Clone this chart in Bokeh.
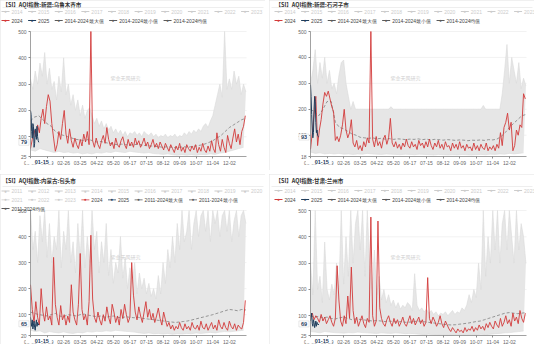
from bokeh.plotting import figure
from bokeh.models import Range1d, FixedTicker, Label, BoxAnnotation
from bokeh.layouts import row, column
from bokeh.embed import file_html
from bokeh.resources import INLINE

# ---------------- data ----------------
X_TICKS = [0, 28, 56, 84, 112, 140, 168, 196, 224, 252, 280, 308, 336]
X_TICK_LABELS = ["01-01", "01-29", "02-26", "03-25", "04-22", "05-20", "06-17",
                 "07-15", "08-12", "09-09", "10-07", "11-04", "12-02"]
CUR_DAY = 14
CUR_DAY_LABEL = "01-15"
YEAR_END = 365

STEP_2024 = 3
STEP_MAX = 4
STEP_MIN = 8
STEP_MEAN = 7
STEP_2025 = 1

# Urumqi
UR_TITLE = "【SI】AQI指数:新疆:乌鲁木齐市"
UR_YTICKS = [25, 100, 200, 300, 400, 500]
UR_2024 = [55, 90, 125, 100, 145, 115, 170, 205, 150, 215,
           260, 235, 150, 95, 45, 70, 120, 90, 150, 200,
           110, 75, 130, 85, 60, 95, 70, 55, 90, 65,
           110, 80, 120, 70, 500, 85, 60, 95, 70, 55,
           85, 105, 75, 135, 90, 65, 80, 55, 95, 70,
           60, 85, 100, 70, 55, 90, 65, 80, 60, 95,
           70, 85, 60, 75, 95, 65, 80, 55, 70, 90,
           60, 75, 55, 80, 65, 50, 75, 60, 45, 70,
           55, 40, 65, 50, 75, 45, 60, 40, 70, 55,
           45, 65, 50, 70, 40, 60, 45, 75, 50, 40,
           65, 45, 85, 55, 40, 115, 70, 45, 90, 60,
           40, 105, 75, 55, 95, 130, 80, 110, 70, 120,
           140, 180]
UR_2025 = [200, 185, 120, 95, 150, 140, 60, 75, 130, 110, 90, 140, 100, 85, 79]
UR_MAX = [320, 280, 350, 300, 380, 330, 420, 300, 360, 280,
          310, 240, 330, 270, 400, 260, 300, 220, 260, 200,
          240, 180, 220, 170, 200, 210, 180, 150, 170, 140,
          160, 130, 150, 125, 140, 115, 130, 110, 125, 105,
          120, 100, 115, 110, 120, 105, 115, 100, 120, 110,
          105, 115, 100, 110, 95, 105, 100, 110, 95, 105,
          100, 110, 95, 105, 100, 115, 105, 120, 110, 125,
          115, 130, 120, 140, 150, 135, 160, 180, 220, 260,
          300, 250, 500, 280, 320, 280, 350, 300, 330, 260,
          300, 270]
UR_MIN = [50, 45, 55, 50, 45, 40, 45, 40, 42, 38,
          40, 35, 38, 35, 40, 38, 42, 40, 45, 42,
          40, 45, 42, 40, 38, 40, 36, 35, 33, 35,
          32, 30, 32, 30, 32, 30, 33, 32, 35, 33,
          38, 40, 45, 50, 55, 60]
UR_MEAN = [160, 175, 180, 165, 150, 140, 120, 110, 105, 100,
           95, 90, 88, 85, 90, 85, 80, 82, 78, 75,
           72, 70, 72, 70, 68, 70, 72, 68, 66, 65,
           64, 62, 60, 62, 60, 58, 60, 62, 60, 63,
           65, 68, 72, 78, 85, 95, 105, 120, 135, 145,
           155, 165, 170]

# Shihezi
SH_TITLE = "【SI】AQI指数:新疆:石河子市"
SH_YTICKS = [18, 100, 200, 300, 400, 500]
SH_2024 = [45, 110, 180, 250, 60, 120, 160, 220, 265, 250,
           270, 240, 210, 190, 80, 95, 75, 100, 140, 200,
           120, 90, 110, 160, 70, 55, 80, 45, 60, 40,
           75, 55, 90, 70, 500, 85, 55, 95, 60, 75,
           50, 85, 100, 65, 90, 165, 70, 55,
           75, 50, 65, 45, 70, 55, 85, 60, 50, 75,
           55, 65, 45, 80, 60, 70, 50, 75, 55, 85,
           60, 45, 70, 55, 80, 50, 65, 45, 75, 55,
           60, 40, 70, 50, 65, 45, 75, 50, 60, 40,
           65, 50, 55, 40, 70, 45, 60, 40, 65, 50,
           45, 70, 40, 55, 45, 60, 40, 65,
           50, 110, 60, 130, 150, 185, 120, 150, 40, 60,
           120, 100, 140, 130, 260, 240]
SH_2025 = [295, 250, 180, 120, 90, 110, 200, 250, 230, 150, 110, 120, 100, 95, 93]
SH_MAX = [300, 350, 430, 300, 380, 320, 400, 300, 350, 280,
          300, 260, 330, 380, 390, 300, 250,
          200, 230, 200, 200, 200, 200, 200, 200, 200, 200,
          200, 200, 200, 200, 200, 200, 200, 210, 200, 200,
          200, 200, 200, 200, 200, 200, 200, 200, 200, 200,
          200, 200, 200, 200, 200, 200, 200, 200, 200, 200,
          200, 200, 200, 200, 200, 200, 200, 200, 200, 200,
          200, 200, 200, 200, 200, 200, 215, 200, 200, 200,
          200, 200, 200, 200,
          260, 350, 450, 300, 400, 350, 300, 380, 280, 320,
          290]
SH_MIN = [35, 30, 32, 28, 30, 28, 30, 27, 28, 26,
          28, 27, 30, 28, 27, 26, 28, 27, 26, 25,
          27, 26, 25, 27, 26, 25, 24, 26, 25, 24,
          25, 24, 26, 25, 24, 25, 26, 25, 27, 26,
          28, 27, 30, 28, 30, 32]
SH_MEAN = [200, 190, 175, 200, 230, 230, 150, 130, 125, 115,
           105, 100,
           92, 90, 88, 90, 86, 88, 85, 87, 84, 86,
           85, 83, 85, 84, 86, 83, 85, 82, 84, 83,
           81, 83, 82, 80, 82, 81, 79, 81, 80, 82,
           80, 83, 82, 85,
           95, 110, 130, 145, 160, 175, 180]

# Baotou
BT_TITLE = "【SI】AQI指数:内蒙古:包头市"
BT_YTICKS = [20, 100, 200, 300, 400, 500]
BT_2024 = [215, 120, 70, 150, 90, 60, 200, 110, 75, 130,
           80, 95, 60, 320, 140, 90, 60, 135, 80, 100,
           60, 95, 70, 215, 110, 80, 60, 140, 335, 120,
           80, 100, 60, 150, 405, 160, 90, 70, 110, 80,
           60, 100, 75, 130, 90, 65, 140, 110, 70, 95,
           60, 120, 85, 140, 100, 70, 90, 300, 175, 110,
           80, 130, 95, 70, 110, 150, 90, 120, 80, 105,
           70, 95, 125, 85, 60, 110, 80, 55, 70, 45,
           60, 40, 55, 45, 70, 50, 40, 65, 45, 55,
           40, 70, 50, 45, 60, 40, 75, 50, 45, 65,
           40, 55, 70, 45, 60, 40, 80, 55, 45, 70,
           50, 40, 75, 55, 45, 65, 40, 60, 50, 45,
           70, 155]
BT_2025 = [90, 70, 55, 80, 45, 60, 75, 50, 40, 65, 80, 55, 70, 60, 65]
BT_MAX = [500, 350, 420, 300, 480, 380, 500, 320, 450, 300,
          400, 350, 500, 280, 420, 350, 500, 300, 380, 260,
          450, 320, 500, 280, 400, 300, 500, 350, 420, 260,
          380, 300, 450, 250, 350, 220, 300, 260, 400, 240,
          320, 200, 280, 220, 300, 180, 260, 200, 240, 180,
          220, 170, 200, 160, 250, 180, 300, 220, 350, 280,
          400, 300, 450, 350, 500, 380, 420, 500, 350, 450,
          500, 400, 480, 500, 420, 500, 380, 500, 450, 500,
          400, 480, 500, 420, 500, 380, 460, 500, 400, 480,
          500, 450]
BT_MIN = [40, 35, 38, 30, 35, 32, 30, 34, 30, 28,
          32, 30, 35, 33, 36, 35, 38, 36, 40, 38,
          36, 35, 33, 30, 28, 30, 27, 28, 26, 28,
          25, 27, 26, 28, 27, 30, 28, 30, 32, 30,
          33, 35, 34, 36, 38, 40]
BT_MEAN = [110, 105, 100, 98, 95, 100, 105, 95, 92, 100,
           98, 95, 100, 102, 98, 95, 92, 95, 90, 92,
           95, 90, 88, 92, 90, 88, 90, 86, 84, 82,
           80, 78, 76, 74, 72, 70, 72, 74, 76, 80,
           84, 88, 92, 96, 100, 105, 110, 115, 120, 118,
           115, 120, 118]

# Lanzhou
LZ_TITLE = "【SI】AQI指数:甘肃:兰州市"
LZ_YTICKS = [25, 100, 200, 300, 400, 500]
LZ_2024 = [95, 110, 85, 100, 90, 75, 105, 80, 95, 70,
           85, 100, 75, 60, 90, 290, 160, 80, 60, 100,
           70, 175, 90, 285, 120, 70, 95, 60, 80, 100,
           70, 55, 90, 75, 475, 100, 60, 80, 460, 130,
           90, 70, 60, 85, 100, 75, 60, 90, 70, 85,
           60, 75, 95, 70, 60, 80, 100, 70, 90, 65,
           80, 95, 70, 85, 60, 75, 245, 90, 70, 95,
           80, 60, 75, 100, 70, 55, 80, 65, 50, 40,
           55, 45, 35, 50, 40, 45, 35, 55, 40, 50,
           45, 60, 40, 55, 45, 65, 50, 60, 45, 70,
           55, 75, 60, 50, 80, 65, 55, 90, 60, 75,
           100, 70, 85, 60, 110, 80, 95, 70, 120, 90,
           75, 110]
LZ_2025 = [80, 95, 110, 70, 60, 85, 75, 55, 65, 80, 60, 75, 70, 65, 69]
LZ_MAX = [300, 180, 500, 200, 250, 150, 380, 200, 160, 220,
          180, 300, 200, 500, 220, 400, 250, 500, 300, 450,
          500, 350, 500, 250, 500, 300, 200, 350, 180, 250,
          160, 200, 150, 180, 140, 160, 130, 150, 125, 140,
          130, 150, 140, 120, 260, 140, 120, 130, 115, 125,
          110, 120, 105, 115, 100, 110, 105, 115, 100, 110,
          120, 105, 115, 110, 130, 120, 140, 180, 150, 200,
          170, 300, 200, 500, 250, 400, 300, 500, 350, 500,
          300, 450, 500, 350, 500, 400, 300, 500, 350, 450,
          400, 300]
LZ_MIN = [40, 38, 35, 40, 38, 36, 35, 34, 36, 35,
          38, 36, 35, 34, 33, 35, 34, 33, 35, 34,
          32, 33, 32, 30, 28, 30, 28, 27, 28, 26,
          27, 28, 27, 26, 28, 27, 30, 28, 30, 32,
          33, 35, 36, 38, 40, 42]
LZ_MEAN = [100, 95, 98, 92, 95, 90, 88, 92, 95, 90,
           85, 88, 86, 84, 82, 80, 82, 80, 78, 80,
           78, 76, 78, 75, 76, 78, 80, 78, 76, 74,
           72, 70, 68, 66, 65, 66, 68, 70, 72, 75,
           78, 80, 85, 90, 95, 100, 105, 110, 112, 110,
           108, 110, 112]

YEARS_A = ["2014", "2015", "2016", "2017", "2018", "2019", "2020", "2021", "2022", "2023"]
YEARS_B = ["2011", "2012", "2013", "2014", "2015", "2016", "2017", "2018", "2019", "2020",
           "2021", "2022", "2023"]
WATERMARK = "紫金天风研究"

# ---------------- style ----------------
C_2024 = "#d33a3a"
C_2025 = "#1f3d5c"
C_STAT = "#5a5a5a"
C_INACT = "#cccccc"
C_BAND = "#e6e6e6"
C_MAXLINE = "#dadada"
C_MEAN = "#808080"
FONT = "Liberation Sans"
FS = 5
W = 265
H = 170
FW = 216
FH = 125


def text_w(s, fs):
    w = 0.0
    for ch in s:
        if ord(ch) > 0x2e80:
            w += fs
        elif ch.isdigit():
            w += 0.556 * fs
        elif ch == "-":
            w += 0.333 * fs
        else:
            w += 0.6 * fs
    return w


def xs(vals, step):
    return [i * step for i in range(len(vals))]


def legend_rows(years, span):
    grey = [(y, C_INACT, False) for y in years]
    act = [("2024", C_2024, True), ("2025", C_2025, True),
           (span + "最大值", C_STAT, True), (span + "最小值", C_STAT, True),
           (span + "均值", C_STAT, True)]
    items = grey + act
    rows = [items[:10], items[10:17], items[17:]]
    return [r for r in rows if r]


def slabel(p, px, py, text, **kw):
    """Label positioned in canvas pixels measured from the top-left corner."""
    p.add_layout(Label(x=px, y=H - py, x_units="screen", y_units="screen", text=text, **kw))


def sbox(p, left, right, top, bottom, color):
    p.add_layout(BoxAnnotation(left=left, right=right, bottom=H - bottom, top=H - top,
                               left_units="screen", right_units="screen",
                               bottom_units="screen", top_units="screen",
                               fill_color=color, fill_alpha=1, line_color=None))


def panel(title, years, span, yticks, s24, s25, smax, smin, smean, L, T, title_y, row_dys,
          leg_x):
    ymin = yticks[0]
    ymax = yticks[-1]
    kx = YEAR_END / FW
    ky = (ymax - ymin) / FH
    xr = Range1d(-L * kx, YEAR_END + (W - L - FW) * kx)
    yr = Range1d(ymin - (H - T - FH) * ky, ymax + T * ky)
    p = figure(width=W, height=H, x_range=xr, y_range=yr,
               output_backend="svg", toolbar_location=None,
               min_border_left=0, min_border_right=0, min_border_top=0, min_border_bottom=0)
    p.outline_line_color = None
    p.background_fill_color = "white"
    p.border_fill_color = "white"
    p.styles = {"outline": "1px solid #e0e0e0", "outline-offset": "-1px"}
    p.xgrid.visible = False
    p.ygrid.visible = False

    for ax in (p.xaxis[0], p.yaxis[0]):
        ax.axis_line_color = "#8a8a8a"
        ax.axis_line_width = 0.8
        ax.major_tick_line_color = "#8a8a8a"
        ax.major_tick_in = 0
        ax.major_tick_out = 2
        ax.minor_tick_line_color = None
        ax.major_label_text_font_size = f"{FS}px"
        ax.major_label_text_color = "#666666"
        ax.major_label_text_font = FONT
        ax.major_label_standoff = 2
    p.xaxis.ticker = FixedTicker(ticks=X_TICKS)
    p.xaxis.major_label_overrides = {t: l for t, l in zip(X_TICKS, X_TICK_LABELS)}
    p.xaxis.fixed_location = ymin
    p.xaxis.bounds = (0, YEAR_END)
    p.yaxis.ticker = FixedTicker(ticks=yticks)
    p.yaxis.fixed_location = 0
    p.yaxis.bounds = (ymin, ymax)

    gt = yticks[1:]
    p.segment(x0=[0] * len(gt), y0=gt, x1=[YEAR_END] * len(gt), y1=gt,
              line_color="#ececec", line_width=0.7)

    xmax = xs(smax, STEP_MAX)
    xmin = xs(smin, STEP_MIN)
    p.patch(xmax + xmin[::-1], smax + smin[::-1], fill_color=C_BAND, line_color=None)
    p.line(xmax, smax, line_color=C_MAXLINE, line_width=0.6)
    p.line(xmin, smin, line_color=C_MAXLINE, line_width=0.6)
    p.line(xs(smean, STEP_MEAN), smean, line_color=C_MEAN, line_width=0.8, line_dash="3 2")
    p.line(xs(s24, STEP_2024), s24, line_color=C_2024, line_width=0.9)
    p.line(xs(s25, STEP_2025), s25, line_color=C_2025, line_width=1.0)

    # watermark
    slabel(p, L + 95, T + 46, WATERMARK, text_font_size="5px", text_color="#cfcfcf",
           text_align="center", text_baseline="middle", text_font="Noto Sans CJK SC")

    # title + separator
    slabel(p, leg_x + 1, title_y, title, text_font_size="5.5px", text_font_style="bold",
           text_color="#333333", text_baseline="middle", text_font="Noto Sans CJK SC")
    sbox(p, 2, W - 2, T - 24.3, T - 23.7, "#dddddd")

    # legend
    for r_i, items in enumerate(legend_rows(years, span)):
        py = T - row_dys[r_i]
        x = leg_x
        for lab, col, active in items:
            sbox(p, x, x + 8, py - 0.4, py + 0.4, col)
            slabel(p, x + 4, py, "●", text_font_size="4.5px", text_align="center",
                   text_baseline="middle", text_color=col)
            slabel(p, x + 10, py, lab, text_font_size=f"{FS}px", text_baseline="middle",
                   text_color="#444444" if active else C_INACT, text_font=FONT)
            x += 10 + text_w(lab, FS) + 5.5

    # current value pointers
    p.add_layout(Label(x=0, y=s25[-1], x_offset=-1.5, text=str(s25[-1]),
                       text_font_size="5.5px", text_font_style="bold", text_color=C_2025,
                       text_align="right", text_baseline="middle", text_font=FONT,
                       background_fill_color="white", border_line_color="#d0d0d0",
                       border_line_width=0.5, padding=(2, 1)))
    slabel(p, L + CUR_DAY / kx, T + FH + 2, CUR_DAY_LABEL,
           text_font_size="5.5px", text_font_style="bold", text_color=C_2025,
           text_align="center", text_baseline="top", text_font=FONT,
           background_fill_color="white", padding=dict(left=9, right=3, top=1, bottom=1))
    return p


span_a = "2014-2024"
span_b = "2011-2024"
p1 = panel(UR_TITLE, YEARS_A, span_a, UR_YTICKS, UR_2024, UR_2025, UR_MAX, UR_MIN, UR_MEAN,
           30, 31, 4.5, [20, 11], 1)
p2 = panel(SH_TITLE, YEARS_A, span_a, SH_YTICKS, SH_2024, SH_2025, SH_MAX, SH_MIN, SH_MEAN,
           41, 31, 4.5, [20, 11], 5)
p3 = panel(BT_TITLE, YEARS_B, span_b, BT_YTICKS, BT_2024, BT_2025, BT_MAX, BT_MIN, BT_MEAN,
           30, 36, 6.5, [19.5, 10.7, 2], 1)
p4 = panel(LZ_TITLE, YEARS_A, span_a, LZ_YTICKS, LZ_2024, LZ_2025, LZ_MAX, LZ_MIN, LZ_MEAN,
           41, 36, 6.5, [20, 11], 5)

layout = column(row(p1, p2, spacing=4), row(p3, p4, spacing=4), spacing=4)
open("out.html", "w").write(file_html(layout, INLINE))
